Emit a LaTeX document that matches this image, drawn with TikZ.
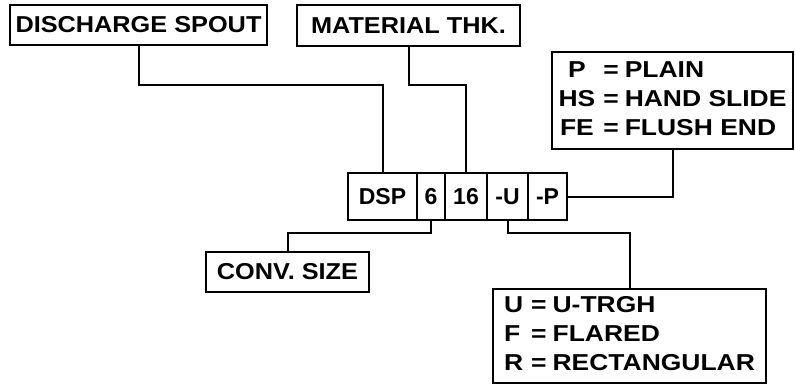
\documentclass[tikz,border=0pt]{standalone}
\usepackage{fontspec}
\setmainfont{Liberation Sans}
\newfontfamily\titlefont[FakeStretch=1.1]{Liberation Sans}
\newfontfamily\legendfont[FakeStretch=1.15]{Liberation Sans}

\begin{document}
\begin{tikzpicture}[x=0.5pt,y=-0.5pt,line width=1pt,
    box/.style={draw,inner sep=0pt,outer sep=0pt,font=\fontsize{11.5}{14.5}\selectfont\bfseries},
    titlebox/.style={box,font=\fontsize{11.5}{14.5}\selectfont\titlefont\bfseries},
    legendbox/.style={box,font=\fontsize{11.5}{14.5}\selectfont\legendfont\bfseries},
    codebox/.style={box,minimum height=23.5pt}]

   \useasboundingbox (0,0) rectangle (795,390);

   % title boxes
   \node[titlebox,minimum width=128.5pt,minimum height=20pt] (spout) at (138.5,25) {DISCHARGE SPOUT};
   \node[titlebox,minimum width=111.5pt,minimum height=20.5pt] (thk) at (408.5,25.5) {MATERIAL THK.};
   \node[titlebox,minimum width=81.5pt,minimum height=20pt] (conv) at (287.5,272) {CONV. SIZE};

   % legend boxes
   \node[legendbox,minimum width=120.5pt,minimum height=48.5pt] (plain) at (672.5,100.5)
      {\begin{tabular}{@{}c@{\hspace{4pt}=\hspace{3pt}}l@{}}P&PLAIN\\HS&HAND SLIDE\\FE&FLUSH END\end{tabular}};
   \node[legendbox,minimum width=136.5pt,minimum height=47pt] (trgh) at (629.5,336)
      {\begin{tabular}{@{}l@{\hspace{4pt}=\hspace{3pt}}l@{}}U&U-TRGH\\F&FLARED\\R&RECTANGULAR\end{tabular}};

   % code
   \node[codebox,minimum width=34.5pt] (dsp) at (382.5,196.5) {DSP};
   \node[codebox,minimum width=14pt] (six) at (431,196.5) {6};
   \node[codebox,minimum width=21pt] (sixteen) at (466,196.5) {16};
   \node[codebox,minimum width=20.5pt] (u) at (507.5,196.5) {-U};
   \node[codebox,minimum width=19.5pt] (p) at (547.5,196.5) {-P};

   \draw (spout.south) -- ++(0,40) -| (dsp.north);
   \draw (thk.south) -- ++(0,39) -| (sixteen.north);
   \draw (six.south) -- ++(0,13) -| (conv.north);
   \draw (u.south) -- ++(0,13) -| (trgh.north);
   \draw (p.east) -| (plain.south);

\end{tikzpicture}
\end{document}
